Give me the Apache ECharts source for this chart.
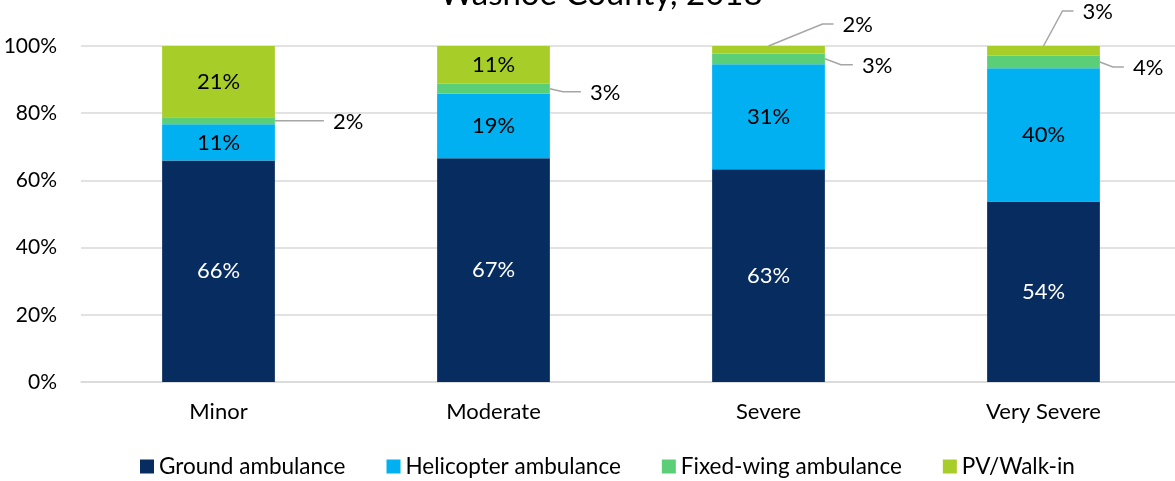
<!DOCTYPE html>
<html>
<head>
<meta charset="utf-8">
<script src="https://cdn.jsdelivr.net/npm/echarts@6/dist/echarts.min.js"></script>
<style>
  html, body { margin: 0; padding: 0; background: #fff; }
  #chart { width: 1175px; height: 481px; }
</style>
</head>
<body>
<div id="chart"></div>
<script>
// Transport mode share by injury severity (percent of patients)
const categories = ['Minor', 'Moderate', 'Severe', 'Very Severe'];
const ground = [65.9, 66.6, 63.3, 53.7];
const helicopter = [10.8, 19.2, 31.3, 39.7];
const fixedWing = [2.1, 3.0, 3.2, 3.7];
const pvWalkIn = [21.2, 11.2, 2.2, 2.9];
const yTicks = [0, 20, 40, 60, 80, 100];
const legendNames = ['Ground ambulance', 'Helicopter ambulance', 'Fixed-wing ambulance', 'PV/Walk-in'];

const FONT = 'Lato';
const TEXT_SIZE = 22;
const BAR_RATIO = 0.41;
const pct = v => Math.round(v) + '%';

// PV/Walk-in segments too thin to hold their own label
const pvOutside = [false, false, true, true];

// Leader-line shapes, relative to the anchor point on the bar:
// [elbow dx, elbow dy, end dx]
const fixedCallout = [[49, 0, 49], [13, 3, 31], [16, 6, 28], [13, 5, 24]];
const pvCallout = [null, null, [54, -22, 65], [19, -35, 30]];

// Callout rows: [category index, value at segment bottom, segment value]
const fixedRows = categories.map((c, i) => [i, ground[i] + helicopter[i], fixedWing[i]]);
const pvRows = categories
  .map((c, i) => [i, ground[i] + helicopter[i] + fixedWing[i], pvWalkIn[i]])
  .filter(r => pvOutside[r[0]]);

function drawCallout(start, shape, value) {
  const pts = [start, [start[0] + shape[0], start[1] + shape[1]], [start[0] + shape[2], start[1] + shape[1]]];
  return {
    type: 'group',
    children: [
      { type: 'polyline', shape: { points: pts }, style: { stroke: '#A6A6A6', lineWidth: 1.5, fill: null } },
      {
        type: 'text',
        style: {
          text: pct(value), x: pts[2][0] + 9, y: pts[2][1] + 1,
          align: 'left', verticalAlign: 'middle',
          font: TEXT_SIZE + 'px ' + FONT, fill: '#000'
        }
      }
    ]
  };
}

// Fixed-wing: line leaves the bar's right edge at the segment's middle
function renderFixed(params, api) {
  const i = api.value(0), base = api.value(1), v = api.value(2);
  const halfBar = api.size([1, 0])[0] * BAR_RATIO / 2;
  const mid = api.coord([i, base + v / 2]);
  return drawCallout([mid[0] + halfBar, mid[1]], fixedCallout[i], v);
}

// PV/Walk-in: line leaves the top of the bar at its centre
function renderPv(params, api) {
  const i = api.value(0), base = api.value(1), v = api.value(2);
  const top = api.coord([i, base + v]);
  return drawCallout(top, pvCallout[i], v);
}

const insideLabel = { show: true, position: 'inside', fontFamily: FONT, fontSize: TEXT_SIZE, color: '#000', formatter: p => pct(p.value) };

const chart = echarts.init(document.getElementById('chart'));
chart.setOption({
  animation: false,
  backgroundColor: '#fff',
  graphic: [{
    type: 'text', x: 601, y: -6, z: 10,
    style: {
      text: 'Washoe County, 2018', align: 'center', verticalAlign: 'middle',
      font: '33px ' + FONT, fill: '#000'
    }
  }],
  grid: { left: 81, width: 1100, top: 46, bottom: 99, outerBoundsMode: 'none' },
  legend: {
    bottom: -2,
    left: 135,
    icon: 'rect',
    itemWidth: 14,
    itemHeight: 14,
    itemGap: 41,
    textStyle: { fontFamily: FONT, fontSize: 22.5, color: '#000' },
    data: legendNames
  },
  xAxis: {
    type: 'category',
    data: categories,
    axisTick: { show: false },
    axisLine: { lineStyle: { color: '#D9D9D9', width: 1.5 } },
    axisLabel: { fontFamily: FONT, fontSize: TEXT_SIZE, color: '#000', margin: 19 }
  },
  yAxis: {
    type: 'value',
    min: yTicks[0],
    max: yTicks[yTicks.length - 1],
    interval: yTicks[1] - yTicks[0],
    axisLine: { show: false },
    axisTick: { show: false },
    splitLine: { lineStyle: { color: '#D9D9D9', width: 1.5 } },
    axisLabel: { fontFamily: FONT, fontSize: 21, color: '#000', margin: 24, formatter: '{value}%' }
  },
  series: [
    {
      name: legendNames[0], type: 'bar', stack: 'all', barWidth: (BAR_RATIO * 100) + '%',
      itemStyle: { color: '#072C60' },
      label: { ...insideLabel, color: '#fff' },
      data: ground
    },
    {
      name: legendNames[1], type: 'bar', stack: 'all',
      itemStyle: { color: '#00B0F0' },
      label: insideLabel,
      data: helicopter
    },
    {
      name: legendNames[2], type: 'bar', stack: 'all',
      itemStyle: { color: '#5BCF78' },
      data: fixedWing
    },
    {
      name: legendNames[3], type: 'bar', stack: 'all',
      itemStyle: { color: '#A7CE28' },
      data: pvWalkIn.map((v, i) => ({ value: v, label: { ...insideLabel, show: !pvOutside[i] } }))
    },
    { type: 'custom', renderItem: renderFixed, data: fixedRows, z: 5, silent: true, clip: false },
    { type: 'custom', renderItem: renderPv, data: pvRows, z: 5, silent: true, clip: false }
  ]
});
</script>
</body>
</html>
